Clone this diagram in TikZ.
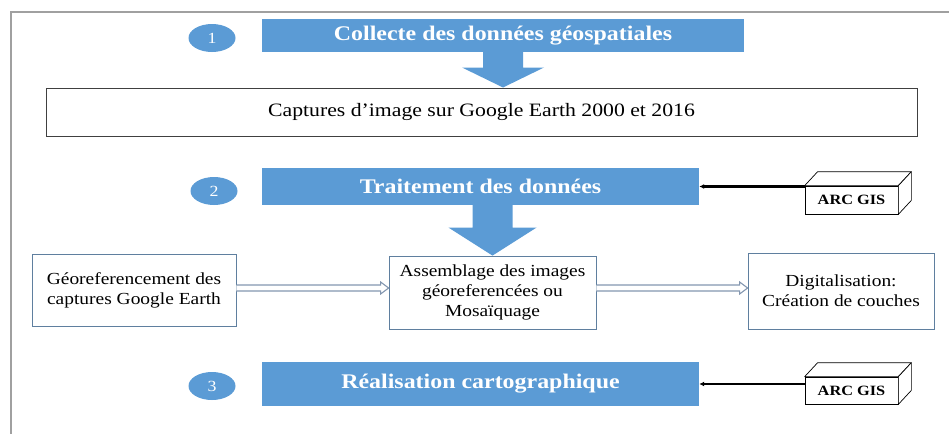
\documentclass[tikz,border=0pt]{standalone}
\usepackage{fontspec}
\setmainfont{Liberation Serif}[FakeStretch=1.15]
\usetikzlibrary{arrows.meta,calc,shapes.geometric}
\definecolor{hblue}{HTML}{5B9BD5}
\definecolor{bedge}{HTML}{5F7F9F}
\definecolor{aedge}{HTML}{8497B0}
\definecolor{frame}{HTML}{A0A0A0}
\tikzset{
  header/.style={fill=hblue, text=white, inner sep=0pt, font=\bfseries\fontsize{20.8}{24}\selectfont},
  numdisk/.style={ellipse, fill=hblue, text=white, inner sep=0pt, minimum width=47pt, minimum height=28pt, font=\fontsize{15.5}{17}\selectfont},
  stepbox/.style={draw=bedge, line width=0.8pt, fill=white, align=center, inner sep=0pt, font=\fontsize{16.9}{20}\selectfont},
  arcbox/.style={draw=black, line width=0.7pt, fill=white, inner sep=0pt, minimum width=93pt, minimum height=28pt, font=\bfseries\fontsize{14.2}{16}\selectfont},
  arcface/.style={draw=black, line width=0.7pt, fill=white, line join=round},
  feed/.style={line width=2.2pt, -{Latex[length=5pt,width=5pt]}},
  hollow/.style={draw=aedge, line width=1.1pt, fill=white, line join=miter},
  blockarrow/.style={fill=hblue}
}
\begin{document}
\begin{tikzpicture}[x=1pt,y=-1pt]
\useasboundingbox (0,0) rectangle (949,434);
% frame
\draw[frame, line width=1.4pt] (949,12) -- (11,12) -- (11,434);

% step 1
\node[header, minimum width=482pt, minimum height=33pt] (h1) at (503,35.5) {Collecte des données géospatiales};
\node[numdisk] (c1) at (212,38) {1};
\node[draw=black!75, line width=1pt, fill=white, inner sep=0pt, minimum width=871pt, minimum height=48pt, font=\fontsize{18.9}{22}\selectfont] (cap) at (481.5,112) {Captures d’image sur Google Earth 2000 et 2016};
\fill[blockarrow] let \p1=(h1.south), \p2=(cap.north) in
  (\x1-20pt,\y1) -- (\x1+20pt,\y1) -- (\x1+20pt,\y2+20pt) -- (\x1+41pt,\y2+20pt)
  -- (\x1,\y2) -- (\x1-41pt,\y2+20pt) -- (\x1-20pt,\y2+20pt) -- cycle;

% step 2
\node[header, minimum width=437pt, minimum height=37pt] (h2) at (480.5,186.5) {Traitement des données};
\node[numdisk] (c2) at (214,191) {2};
\node[stepbox, minimum width=204pt, minimum height=72pt] (left) at (134,290) {Géoreferencement des\\captures Google Earth};
\node[stepbox, minimum width=207pt, minimum height=73pt] (mid) at (492.5,292.5) {Assemblage des images\\géoreferencées ou\\Mosaïquage};
\node[stepbox, minimum width=186pt, minimum height=76pt] (right) at (841,291) {Digitalisation:\\Création de couches};
\fill[blockarrow] let \p1=(h2.south), \p2=(mid.north) in
  (\x2-20pt,\y1) -- (\x2+20pt,\y1) -- (\x2+20pt,\y2+28pt) -- (\x2+44pt,\y2+28pt)
  -- (\x2,\y2) -- (\x2-44pt,\y2+28pt) -- (\x2-20pt,\y2+28pt) -- cycle;
\filldraw[hollow] let \p1=(left.east), \p2=(mid.west) in
  (\x1,\y1+5pt) -- (\x2-8pt,\y1+5pt) -- (\x2-8pt,\y1+8pt) -- (\x2,\y1+2pt)
  -- (\x2-8pt,\y1-4pt) -- (\x2-8pt,\y1-1pt) -- (\x1,\y1-1pt);
\filldraw[hollow] let \p1=(mid.east), \p2=(right.west) in
  (\x1,\y1+7.5pt) -- (\x2-8pt,\y1+7.5pt) -- (\x2-8pt,\y1+10.5pt) -- (\x2,\y1+4.5pt)
  -- (\x2-8pt,\y1-1.5pt) -- (\x2-8pt,\y1+1.5pt) -- (\x1,\y1+1.5pt);

% ARC GIS 1
\node[arcbox] (arc1) at (851.5,200) {ARC GIS};
\filldraw[arcface] (arc1.north west) -- ++(13,-14) -- ($(arc1.north east)+(13,-14)$) -- (arc1.north east) -- cycle;
\filldraw[arcface] (arc1.north east) -- ++(13,-14) -- ($(arc1.south east)+(13,-14)$) -- (arc1.south east) -- cycle;
\draw[feed] (arc1.west |- h2.east) -- (h2.east);

% step 3
\node[header, minimum width=437pt, minimum height=44pt] (h3) at (480.5,384) {Réalisation cartographique};
\node[numdisk] (c3) at (212,386) {3};
\node[arcbox, minimum height=27pt] (arc2) at (851.5,390.5) {ARC GIS};
\filldraw[arcface] (arc2.north west) -- ++(13,-14) -- ($(arc2.north east)+(13,-14)$) -- (arc2.north east) -- cycle;
\filldraw[arcface] (arc2.north east) -- ++(13,-14) -- ($(arc2.south east)+(13,-14)$) -- (arc2.south east) -- cycle;
\draw[feed] (arc2.west |- h3.east) -- (h3.east);
\end{tikzpicture}
\end{document}
